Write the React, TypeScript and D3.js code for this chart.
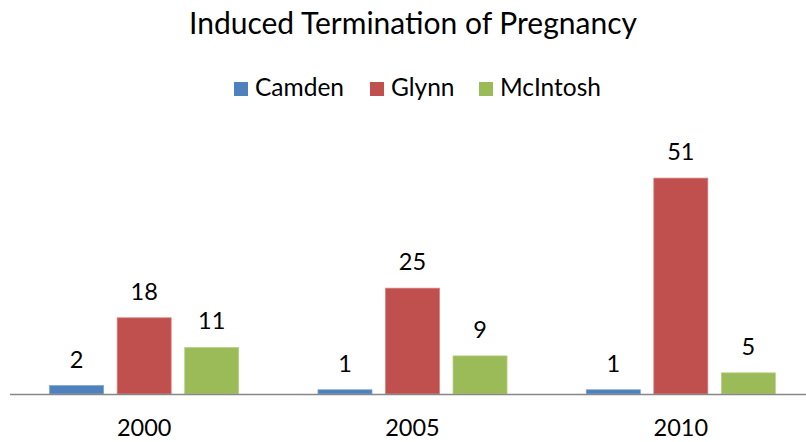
import React, { useEffect, useRef } from 'react'
import * as d3 from 'd3'

const years = ['2000', '2005', '2010']
const seriesNames = ['Camden', 'Glynn', 'McIntosh']
const camden = [2, 1, 1]
const glynn = [18, 25, 51]
const mcintosh = [11, 9, 5]
const colors = ['#4F81BD', '#C0504D', '#9BBB59']
const borders = ['#7FA3D0', '#D6807E', '#B9D08A']

const App = () => {
  const svgRef = useRef<SVGSVGElement | null>(null)

  useEffect(() => {
    const w = 806
    const h = 442
    const baseY = 394
    const font = 'Lato, "Open Sans", sans-serif'
    const values = [camden, glynn, mcintosh]
    const rows = years.map((year, i) => ({
      year,
      items: seriesNames.map((name, s) => ({ name, s, value: values[s][i] }))
    }))

    const svg = d3.select(svgRef.current)
    svg.selectAll('*').remove()
    svg.attr('width', w).attr('height', h)

    const x0 = d3
      .scaleBand()
      .domain(years)
      .range([10, 815])
      .paddingInner(0.245)
      .paddingOuter(0.1225)
    const x1 = d3
      .scaleBand()
      .domain(seriesNames)
      .range([0, x0.bandwidth()])
      .paddingInner(0.2)
      .paddingOuter(0.1)
    const y = d3.scaleLinear().domain([0, 60]).range([baseY, 140])

    // Title
    svg
      .append('text')
      .attr('x', 413)
      .attr('y', 34)
      .attr('text-anchor', 'middle')
      .attr('font-family', font)
      .attr('font-size', '30px')
      .attr('fill', '#000')
      .text('Induced Termination of Pregnancy')

    // Legend
    const legendX = [234, 370, 479]
    const legend = svg
      .selectAll('g.legend')
      .data(seriesNames)
      .enter()
      .append('g')
      .attr('class', 'legend')
      .attr('transform', (d, i) => `translate(${legendX[i]},0)`)
    legend
      .append('rect')
      .attr('x', 0)
      .attr('y', 82)
      .attr('width', 14)
      .attr('height', 14)
      .attr('fill', (d, i) => colors[i])
    legend
      .append('text')
      .attr('x', 21)
      .attr('y', 96)
      .attr('font-family', font)
      .attr('font-size', '24.5px')
      .attr('fill', '#000')
      .text(d => d)

    // Bars
    const groups = svg
      .selectAll('g.group')
      .data(rows)
      .enter()
      .append('g')
      .attr('class', 'group')
      .attr('transform', d => `translate(${x0(d.year)},0)`)
    groups
      .selectAll('rect')
      .data(d => d.items)
      .enter()
      .append('rect')
      .attr('x', d => x1(d.name) as number)
      .attr('y', d => y(d.value))
      .attr('width', x1.bandwidth())
      .attr('height', d => baseY - y(d.value))
      .attr('fill', d => colors[d.s])
      .attr('stroke', d => borders[d.s])
      .attr('stroke-width', 0.75)
    groups
      .selectAll('text')
      .data(d => d.items)
      .enter()
      .append('text')
      .attr('x', d => (x1(d.name) as number) + x1.bandwidth() / 2)
      .attr('y', d => y(d.value) - 18)
      .attr('text-anchor', 'middle')
      .attr('font-family', font)
      .attr('font-size', '23.5px')
      .attr('fill', '#000')
      .text(d => d.value)

    // Axis line and category labels
    svg
      .append('line')
      .attr('x1', 10)
      .attr('x2', w)
      .attr('y1', baseY + 0.5)
      .attr('y2', baseY + 0.5)
      .attr('stroke', '#878787')
      .attr('stroke-width', 1.5)
    svg
      .selectAll('text.cat')
      .data(years)
      .enter()
      .append('text')
      .attr('class', 'cat')
      .attr('x', d => (x0(d) as number) + x0.bandwidth() / 2)
      .attr('y', 436)
      .attr('text-anchor', 'middle')
      .attr('font-family', font)
      .attr('font-size', '23.5px')
      .attr('fill', '#000')
      .text(d => d)
  }, [])

  return (
    <svg
      ref={svgRef}
      style={{ position: 'absolute', left: 0, top: 0, background: '#fff' }}
    />
  )
}

export default App
